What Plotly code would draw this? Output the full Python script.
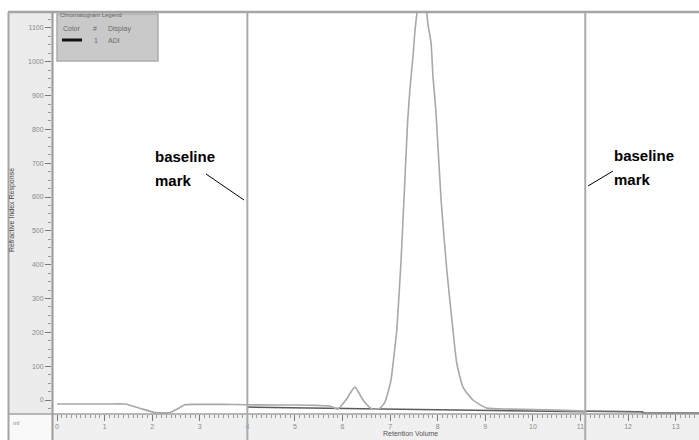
import plotly.graph_objects as go

# ---------------- data ----------------
signal_x = [0.0, 0.5, 1.0, 1.43, 1.75, 2.06, 2.2, 2.37, 2.55, 2.69, 3.0, 3.5, 4.0, 4.5,
            5.0, 5.5, 5.74, 5.90, 6.07, 6.26, 6.43, 6.62, 6.79, 6.89, 6.95, 7.02, 7.08,
            7.14, 7.23, 7.31, 7.37, 7.42, 7.48, 7.52, 7.56, 7.62, 7.69, 7.74, 7.77, 7.79,
            7.86, 7.90, 7.96, 8.07, 8.19, 8.32, 8.40, 8.53, 8.74, 9.03, 9.5, 10.0, 10.5, 11.1]
signal_y = [-12, -12, -12, -12, -25, -37, -38, -37, -25, -14, -13, -13, -14, -15,
            -15, -16, -18, -27, 0, 38, 0, -27, -24, -6, 20, 60, 130,
            207, 414, 651, 828, 926, 1015, 1089, 1139, 1200, 1230, 1200, 1148, 1115,
            1056, 956, 858, 592, 385, 207, 109, 38, 0, -24, -27, -28, -30, -33]

tail_x = [11.1, 12.3, 12.33, 13.5]
tail_y = [-33, -35, -39, -39]

baseline_x = [4.0, 11.1]
baseline_y = [-21, -35]

baseline_marks = [4.0, 11.1]

x_ticks = list(range(0, 14))
y_ticks = list(range(0, 1101, 100))
y_ticktext = [str(v) for v in y_ticks]

# ---------------- layout helpers (pixel -> paper) ----------------
W, H = 699, 440
ML, MR, MT, MB = 52, 0, 12, 26
PW, PH = W - ML - MR, H - MT - MB


def PX(px):
    return (px - ML) / PW


def PY(py):
    return (H - MB - py) / PH


fig = go.Figure()

fig.add_trace(go.Scatter(x=baseline_x, y=baseline_y, mode="lines",
                         line=dict(color="#5a5a5a", width=1.5), hoverinfo="skip"))
fig.add_trace(go.Scatter(x=signal_x, y=signal_y, mode="lines",
                         line=dict(color="#a8a8a8", width=1.6, shape="spline", smoothing=0.5),
                         hoverinfo="skip"))
fig.add_trace(go.Scatter(x=tail_x, y=tail_y, mode="lines",
                         line=dict(color="#6a6a6a", width=1.8), hoverinfo="skip"))

shapes = []
# grey side panel and bottom band
shapes.append(dict(type="rect", xref="paper", yref="paper", x0=PX(9), x1=PX(52),
                   y0=PY(414), y1=PY(13), fillcolor="#ececec", line=dict(width=0), layer="below"))
shapes.append(dict(type="rect", xref="paper", yref="paper", x0=PX(52), x1=PX(699),
                   y0=PY(440), y1=PY(414), fillcolor="#f0f0f0", line=dict(width=0), layer="below"))
shapes.append(dict(type="rect", xref="paper", yref="paper", x0=PX(9), x1=PX(52),
                   y0=PY(440), y1=PY(414), fillcolor="#f9f9f9", line=dict(width=0), layer="below"))
# frame lines
shapes.append(dict(type="line", xref="paper", yref="paper", x0=PX(8), x1=PX(699),
                   y0=PY(12), y1=PY(12), line=dict(color="#a5a5a5", width=2.5)))
shapes.append(dict(type="line", xref="paper", yref="paper", x0=PX(8.5), x1=PX(8.5),
                   y0=PY(12), y1=PY(440), line=dict(color="#a5a5a5", width=2)))
shapes.append(dict(type="line", xref="paper", yref="paper", x0=PX(52.5), x1=PX(52.5),
                   y0=PY(12), y1=PY(440), line=dict(color="#9a9a9a", width=2)))
shapes.append(dict(type="line", xref="paper", yref="paper", x0=PX(8), x1=PX(699),
                   y0=PY(414), y1=PY(414), line=dict(color="#a0a0a0", width=1.5)))
# baseline marks
for m in baseline_marks:
    shapes.append(dict(type="line", xref="x", yref="paper", x0=m, x1=m,
                       y0=PY(440), y1=1, line=dict(color="#ababab", width=2)))
# leader lines
shapes.append(dict(type="line", xref="paper", yref="paper", x0=PX(206), x1=PX(244),
                   y0=PY(174), y1=PY(200), line=dict(color="#000000", width=1)))
shapes.append(dict(type="line", xref="paper", yref="paper", x0=PX(613), x1=PX(588),
                   y0=PY(171), y1=PY(186), line=dict(color="#000000", width=1)))
# legend box
shapes.append(dict(type="rect", xref="paper", yref="paper", x0=PX(57), x1=PX(158),
                   y0=PY(61), y1=PY(14), fillcolor="#c9c9c9",
                   line=dict(color="#acacac", width=1.5)))
shapes.append(dict(type="line", xref="paper", yref="paper", x0=PX(62), x1=PX(82),
                   y0=PY(40), y1=PY(40), line=dict(color="#111111", width=3)))

anns = []
bold_font = dict(family="Liberation Sans, Arial, Helvetica, sans-serif",
                 size=15, color="#000000")


def ann(text, px, py, font, xanchor="left", yanchor="middle", textangle=0):
    anns.append(dict(text=text, xref="paper", yref="paper", x=PX(px), y=PY(py),
                     xanchor=xanchor, yanchor=yanchor, showarrow=False, font=font,
                     textangle=textangle))


ann("<b>baseline</b>", 153, 156, bold_font)
ann("<b>mark</b>", 153, 180, bold_font)
ann("<b>baseline</b>", 612, 155, bold_font)
ann("<b>mark</b>", 612, 179, bold_font)

small = dict(family="Liberation Sans, Arial, sans-serif", size=7, color="#6a6a6a")
ann("Chromatogram Legend", 58, 15, dict(family="Liberation Sans, Arial, sans-serif", size=6, color="#666666"))
ann("Color", 61, 29, small)
ann("#", 91, 29, small)
ann("Display", 106, 29, small)
ann("1", 92, 40, small)
ann("ADI", 106, 40, small)
ann("Retention Volume", 410, 433, dict(family="Liberation Sans, Arial, sans-serif", size=7, color="#555555"),
    xanchor="center")
ann("Refractive Index Response", 12, 210, dict(family="Liberation Sans, Arial, sans-serif", size=7, color="#444444"),
    xanchor="center", textangle=-90)
ann("ml", 16, 423, dict(family="Liberation Sans, Arial, sans-serif", size=6, color="#888888"),
    xanchor="center")

tick_font = dict(family="Liberation Sans, Arial, sans-serif", size=7, color="#8a8a8a")

fig.update_layout(
    width=W, height=H, autosize=False,
    margin=dict(l=ML, r=MR, t=MT, b=MB, pad=0),
    paper_bgcolor="#ffffff", plot_bgcolor="#ffffff",
    showlegend=False,
    shapes=shapes, annotations=anns,
    xaxis=dict(range=[-0.105, 13.49], showgrid=False, zeroline=False, showline=False,
               tickvals=x_ticks, ticks="outside", ticklen=6, tickwidth=1, tickcolor="#7a7a7a",
               tickfont=tick_font,
               minor=dict(dtick=0.1, tick0=0, ticks="outside", ticklen=3, tickcolor="#9a9a9a", showgrid=False)),
    yaxis=dict(range=[-41.4, 1147], showgrid=False, zeroline=False, showline=False,
               tickvals=y_ticks, ticktext=y_ticktext, ticks="outside", ticklen=6, tickwidth=1,
               tickcolor="#7a7a7a", tickfont=tick_font,
               minor=dict(dtick=25, tick0=0, ticks="outside", ticklen=3, tickcolor="#9a9a9a", showgrid=False)),
)

fig.write_html("out.html")
